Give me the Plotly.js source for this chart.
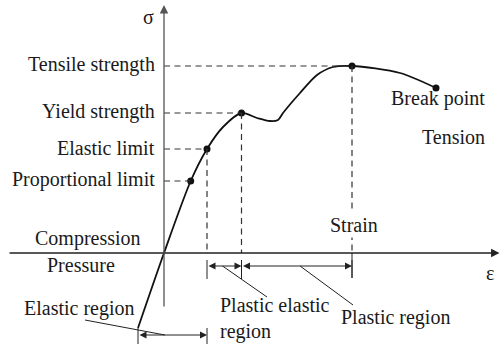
<!DOCTYPE html>
<html>
<head>
<meta charset="utf-8">
<script src="https://cdn.plot.ly/plotly-3.0.1.min.js"></script>
<style>
  html, body { margin: 0; padding: 0; background: #fff; font-family: "Liberation Serif", serif; }
  #chart { width: 500px; height: 344px; }
</style>
</head>
<body>
<div id="chart"></div>
<script>
// Stress–strain curve (strain ε, stress σ, arbitrary units)
const curveStrain = [-2.6, 0, 2.67, 4.3, 5.9, 7.75, 9.3, 10.6, 11.4, 11.9, 13.6, 15.3, 16.9, 18.8, 23.6, 27.2];
const curveStress = [-7.5, 0, 7.2, 10.4, 12.6, 14.0, 13.5, 13.2, 13.3, 14.0, 16.0, 17.8, 18.6, 18.7, 18.0, 16.5];

// Characteristic points on the curve
const pointNames  = ['Proportional limit', 'Elastic limit', 'Yield strength', 'Tensile strength', 'Break point'];
const pointStrain = [2.67, 4.3, 7.75, 18.8, 27.2];
const pointStress = [7.2, 10.4, 14.0, 18.7, 16.5];

// Points that get a horizontal guide to the σ axis / a vertical guide to the ε axis
const hGuides = ['Proportional limit', 'Elastic limit', 'Yield strength', 'Tensile strength'];
const vGuides = ['Elastic limit', 'Yield strength', 'Tensile strength'];

// Regions of deformation along the strain axis
const regionNames = ['Elastic region', 'Plastic elastic region', 'Plastic region'];
const regionStart = [-2.6, 4.3, 7.75];
const regionEnd   = [4.3, 7.75, 18.8];

const FONT = 'Liberation Serif';
const INK = '#1a1a1a';
const AX = '#555';
const FS = 20;

function draw() {
  const idx = n => pointNames.indexOf(n);
  const shapes = [];
  const annotations = [];

  // dashed guides
  hGuides.forEach(n => {
    const i = idx(n);
    shapes.push({type: 'line', x0: 0, x1: pointStrain[i], y0: pointStress[i], y1: pointStress[i],
      line: {color: '#333', width: 1.2, dash: '6px,4.5px'}});
    annotations.push({x: -0.75, y: pointStress[i] + 0.15, text: n, showarrow: false,
      xanchor: 'right', yanchor: 'middle', font: {family: FONT, size: FS, color: INK}});
  });
  vGuides.forEach(n => {
    const i = idx(n);
    shapes.push({type: 'line', x0: pointStrain[i], x1: pointStrain[i], y0: pointStress[i], y1: 0,
      line: {color: '#333', width: 1.2, dash: '6px,4.5px'}});
  });

  // strain axis and stress axis with arrowheads
  annotations.push({x: 33.55, y: 0, ax: -15.6, ay: 0, axref: 'x', ayref: 'y', text: '', showarrow: true,
    arrowhead: 2, arrowsize: 1.3, arrowwidth: 1.3, arrowcolor: '#222', standoff: 0});
  annotations.push({x: 0, y: 24.8, ax: 0, ay: -5.5, axref: 'x', ayref: 'y', text: '', showarrow: true,
    arrowhead: 2, arrowsize: 1.3, arrowwidth: 1.3, arrowcolor: AX, standoff: 0});

  // region dimension arrows with end ticks
  const rowY = [-8.2, -1.3, -1.3];
  const tickSpan = [[-7.5, -9.1], [-0.7, -2.6], [-0.7, -2.5]];
  regionNames.forEach((n, k) => {
    annotations.push({x: regionEnd[k], y: rowY[k], ax: regionStart[k], ay: rowY[k], axref: 'x', ayref: 'y',
      text: '', showarrow: true, arrowside: 'end+start', arrowhead: 2, startarrowhead: 2,
      arrowsize: 1.4, startarrowsize: 1.4, arrowwidth: 1, arrowcolor: '#222', standoff: 0, startstandoff: 0});
    [regionStart[k], regionEnd[k]].forEach(x => {
      shapes.push({type: 'line', x0: x, x1: x, y0: tickSpan[k][0], y1: tickSpan[k][1],
        line: {color: '#222', width: 1}});
    });
  });
  // tick continuing the tensile guide below the axis
  shapes.push({type: 'line', x0: regionEnd[2], x1: regionEnd[2], y0: 0, y1: -2.5, line: {color: '#222', width: 1}});

  // leader lines from region arrows to their labels
  const leaderFrac = [0.39, 0.45, 0.53];
  const leaderEnd = [[-7.9, -6.7], [10.3, -4.4], [18.9, -5.2]];
  regionNames.forEach((n, k) => {
    const xs = regionStart[k] + leaderFrac[k] * (regionEnd[k] - regionStart[k]);
    shapes.push({type: 'line', x0: xs, y0: rowY[k], x1: leaderEnd[k][0], y1: leaderEnd[k][1],
      line: {color: '#222', width: 1}});
  });

  // text labels
  const lab = (x, y, t, xa, extra) => annotations.push(Object.assign({x, y, text: t, showarrow: false,
    xanchor: xa || 'center', yanchor: 'middle', font: {family: FONT, size: FS, color: INK}}, extra || {}));
  lab(-0.8, 23.6, 'σ', 'right');
  lab(-7.6, 1.5, 'Compression');
  lab(-8.3, -1.2, 'Pressure');
  lab(-8.45, -5.5, 'Elastic region');
  lab(27.4, 15.5, 'Break point');
  lab(28.9, 11.6, 'Tension');
  lab(19.0, 2.8, 'Strain', 'center', {bgcolor: '#fff'});
  lab(32.6, -2.0, 'ε');
  lab(5.4, -6.55, 'Plastic elastic<br>region', 'left', {align: 'left'});
  lab(23.15, -6.4, 'Plastic region');

  const traces = [
    {x: curveStrain, y: curveStress, mode: 'lines', line: {shape: 'spline', smoothing: 0.8, color: '#111', width: 1.8},
     hoverinfo: 'skip'},
    {x: pointStrain, y: pointStress, mode: 'markers', text: pointNames,
     marker: {color: '#111', size: 7}}
  ];

  const layout = {
    width: 500, height: 344,
    margin: {l: 0, r: 0, t: 0, b: 0},
    paper_bgcolor: '#fff', plot_bgcolor: '#fff',
    showlegend: false,
    font: {family: FONT},
    xaxis: {range: [-16.4, 33.6], visible: false, fixedrange: true},
    yaxis: {range: [-9.1, 25.3], visible: false, fixedrange: true},
    shapes, annotations
  };

  Plotly.newPlot('chart', traces, layout, {displayModeBar: false, staticPlot: true});
}

// make sure the serif face is ready before the labels are measured
if (document.fonts && document.fonts.load) {
  document.fonts.load(FS + 'px "' + FONT + '"', 'Tensile σε').then(draw, draw);
} else {
  draw();
}
</script>
</body>
</html>
